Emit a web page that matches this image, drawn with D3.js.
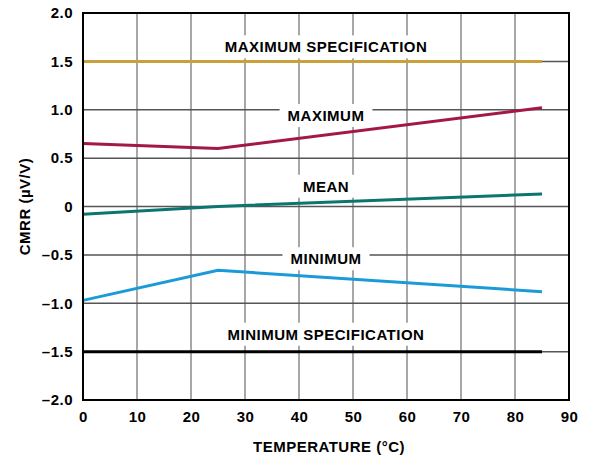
<!DOCTYPE html>
<html><head><meta charset="utf-8">
<script src="https://cdn.jsdelivr.net/npm/d3@7"></script>
<style>
body{margin:0;background:#fff;}
svg text{font-family:"Liberation Sans",Arial,sans-serif;font-weight:bold;fill:#000;letter-spacing:0.5px;}
</style></head>
<body><svg id="c" width="590" height="457"></svg>
<script>
const temps = [0, 25, 85];
const maxSpec = [1.5, 1.5, 1.5];
const maximum = [0.65, 0.60, 1.02];
const mean = [-0.08, 0.0, 0.13];
const minimum = [-0.97, -0.66, -0.88];
const minSpec = [-1.5, -1.5, -1.5];
const xTicks = [0,10,20,30,40,50,60,70,80,90];
const yTicks = [2,1.5,1,0.5,0,-0.5,-1,-1.5,-2];
const yTickLabels = ["2.0","1.5","1.0","0.5","0","\u20130.5","\u20131.0","\u20131.5","\u20132.0"];
const seriesNames = ["MAXIMUM SPECIFICATION","MAXIMUM","MEAN","MINIMUM","MINIMUM SPECIFICATION"];
const seriesColors = ["#c8a03c","#a3174a","#0b7670","#1a9bd7","#000000"];
const labelX = [45,45,45,45,45];
const labelY = [1.65,0.94,0.21,-0.54,-1.32];

const series = [maxSpec, maximum, mean, minimum, minSpec];
const svg = d3.select("#c");
const L=83, R=569, T=13, B=400;
const FS = 15;
const x = d3.scaleLinear().domain([0,90]).range([L,R]);
const y = d3.scaleLinear().domain([-2,2]).range([B,T]);

// gridlines
svg.append("g").selectAll("line").data(xTicks.slice(1,-1)).join("line")
  .attr("x1",d=>x(d)).attr("x2",d=>x(d)).attr("y1",T).attr("y2",B)
  .attr("stroke","#8a8a8a").attr("stroke-width",1.5);
svg.append("g").selectAll("line").data(yTicks.slice(1,-1)).join("line")
  .attr("x1",L).attr("x2",R).attr("y1",d=>y(d)).attr("y2",d=>y(d))
  .attr("stroke","#555").attr("stroke-width",1.5);

// labels with white boxes
const lg = svg.append("g");
seriesNames.forEach((n,i)=>{
  const t = lg.append("text").attr("x",x(labelX[i])).attr("y",y(labelY[i]))
    .attr("text-anchor","middle").attr("dominant-baseline","central")
    .attr("font-size",FS).text(n);
  const bb = t.node().getBBox();
  lg.insert("rect","text").attr("x",bb.x-8).attr("y",bb.y-3).attr("width",bb.width+16).attr("height",bb.height+6).attr("fill","#fff");
});
lg.selectAll("rect").lower();

// lines
const line = d3.line().x((d,i)=>x(temps[i])).y(d=>y(d));
series.forEach((s,i)=>{
  svg.append("path").datum(s).attr("d",line).attr("fill","none")
    .attr("stroke",seriesColors[i]).attr("stroke-width",3);
});

// frame
svg.append("rect").attr("x",L).attr("y",T).attr("width",R-L).attr("height",B-T)
  .attr("fill","none").attr("stroke","#000").attr("stroke-width",2);

// axes
const xa = svg.append("g").attr("transform",`translate(0,${B})`)
  .call(d3.axisBottom(x).tickValues(xTicks).tickSize(0).tickPadding(11));
xa.select(".domain").remove();
xa.selectAll("text").attr("font-size",FS).style("font-family","Liberation Sans, Arial").style("font-weight","bold");
const ya = svg.append("g").attr("transform",`translate(${L},0)`)
  .call(d3.axisLeft(y).tickValues(yTicks).tickSize(0).tickPadding(10).tickFormat((d,i)=>yTickLabels[i]));
ya.select(".domain").remove();
ya.selectAll("text").attr("font-size",FS).style("font-family","Liberation Sans, Arial").style("font-weight","bold");

svg.append("text").attr("x",(L+R)/2+3).attr("y",452).attr("text-anchor","middle")
  .attr("font-size",FS).text("TEMPERATURE (°C)");
svg.append("text").attr("transform",`translate(30,${(T+B)/2}) rotate(-90)`).attr("text-anchor","middle")
  .attr("font-size",FS).text("CMRR (µV/V)");
</script></body></html>
